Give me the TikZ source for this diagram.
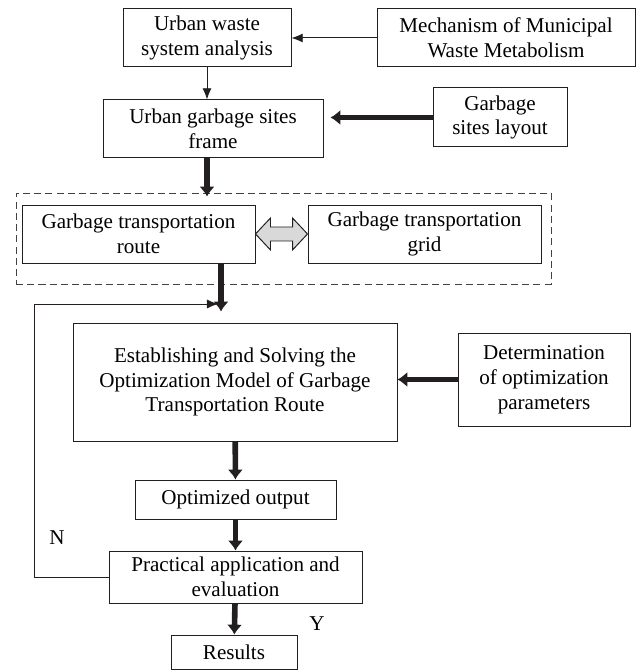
\documentclass[tikz,border=0pt]{standalone}
\usepackage{fontspec}
\setmainfont{Liberation Serif}
\usepackage{xcolor}
\usepackage{tikz}
\usetikzlibrary{arrows.meta,calc}
\definecolor{FlowInk}{HTML}{231F20}
\definecolor{FlowGrey}{HTML}{D9D9D9}

\begin{document}
\begin{tikzpicture}[x=1cm,y=1cm,
  box/.style={draw=FlowInk,line width=0.7pt,align=center,inner sep=2pt,
    font=\fontsize{15}{17.7}\selectfont},
  groupbox/.style={draw=FlowInk!85,line width=0.7pt,dash pattern=on 5pt off 3pt},
  thinarr/.style={draw=FlowInk,line width=0.7pt,-{Latex[length=8pt,width=6.5pt]}},
  thickarr/.style={draw=FlowInk,line width=4pt,-{Latex[length=7pt,width=11pt]}},
  duoarrow/.style={draw=FlowInk,line width=0.7pt,fill=FlowGrey,line join=miter},
  mark label/.style={font=\fontsize{15}{17.7}\selectfont}]
\path[use as bounding box] (0,0) rectangle (16.025,16.775);

\node[box,minimum width=4.2cm,minimum height=1.45cm] (sysana) at (5.175,15.825) {Urban waste\\system analysis};
\node[box,minimum width=6.45cm,minimum height=1.45cm] (mech) at (12.65,15.825) {Mechanism of Municipal\\Waste Metabolism};
\node[box,minimum width=5.5cm,minimum height=1.45cm] (frame) at (5.325,13.55) {Urban garbage sites\\frame};
\node[box,minimum width=3.35cm,minimum height=1.475cm] (layout) at (12.5,13.8375) {Garbage\\sites layout};

\node[groupbox,minimum width=13.375cm,minimum height=2.275cm] (group) at (7.0875,10.8125) {};
\node[box,minimum width=5.825cm,minimum height=1.45cm] (route) at (3.4625,10.925) {Garbage transportation\\route};
\node[box,minimum width=5.825cm,minimum height=1.45cm] (grid) at (10.6125,10.925) {Garbage transportation\\grid};

\node[box,minimum width=8.1cm,minimum height=2.95cm] (model) at (5.875,7.225) {Establishing and Solving the\\Optimization Model of Garbage\\Transportation Route};
\node[box,minimum width=4.3cm,minimum height=2.325cm] (det) at (13.6,7.2875) {Determination\\of optimization\\parameters};
\node[box,minimum width=5.025cm,minimum height=0.975cm] (opt) at (5.8875,4.2875) {Optimized output};
\node[box,minimum width=6.325cm,minimum height=1.3cm] (prac) at (5.8875,2.35) {Practical application and\\evaluation};
\node[box,minimum width=3.15cm,minimum height=0.85cm] (results) at (5.85,0.475) {Results};

\node[mark label] (no) at (1.425,3.325) {N};
\node[mark label] (yes) at (7.925,1.175) {Y};

\coordinate (join) at (5.525,9.175);
\coordinate (loop) at (0.85,9.175);

% upper chain
\draw[thinarr] (mech) -- (sysana);
\draw[thinarr] (sysana) -- (frame.north -| sysana);
\draw[thickarr,shorten >=0.175cm] (layout.west) -- (frame.east |- layout.west);
\draw[thickarr,shorten >=-0.1cm] (frame.south -| sysana) -- (group.north -| sysana);

% route <-> grid
\draw[duoarrow] (route.east) -- ++(0.375,0.4) -- ++(0,-0.225)
  -- ($(grid.west)+(-0.375,0.175)$) -- ++(0,0.225) -- (grid.west)
  -- ++(-0.375,-0.4) -- ++(0,0.225)
  -- ($(route.east)+(0.375,-0.175)$) -- ++(0,-0.225) -- cycle;

% into the model and down
\draw[thickarr,shorten >=0.275cm] (route.south -| join) -- (model.north -| join);
\draw[thickarr] (det.west) -- (model.east |- det.west);
\draw[thickarr] (model) -- (opt);
\draw[thickarr] (opt) -- (prac);
\draw[thickarr] (prac) -- (results);

% feedback on N
\draw[thinarr,shorten >=0.07cm] (prac.west) -| (loop) -- (join);
\end{tikzpicture}
\end{document}
